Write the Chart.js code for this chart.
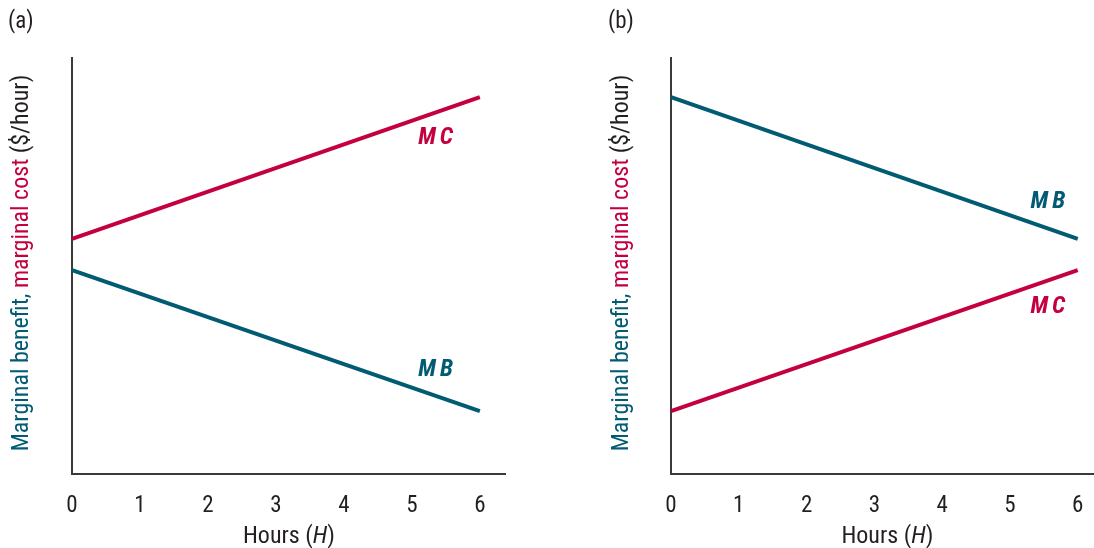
<!DOCTYPE html>
<html>
<head>
<meta charset="utf-8">
<script src="https://cdn.jsdelivr.net/npm/chart.js@4.4.1/dist/chart.umd.min.js"></script>
<style>
  html, body { margin: 0; padding: 0; background: #ffffff; overflow: hidden; }
  #wrap { position: relative; width: 1094px; height: 548px; overflow: hidden; }
  .panel { position: absolute; top: 0; height: 548px; }
  #panelA { left: 0; width: 547px; }
  #panelB { left: 547px; width: 567px; }
</style>
</head>
<body>
<div id="wrap">
  <div class="panel" id="panelA"><canvas id="chartA" width="547" height="548"></canvas></div>
  <div class="panel" id="panelB"><canvas id="chartB" width="567" height="548"></canvas></div>
</div>
<script>
// Hours on the horizontal axis
const hours = [0, 6];
const hourTicks = [0, 1, 2, 3, 4, 5, 6];

// Panel (a): marginal cost above marginal benefit everywhere
const mcA = [5.65, 9.06];
const mbA = [4.90, 1.51];

// Panel (b): marginal benefit above marginal cost everywhere
const mbB = [9.06, 5.65];
const mcB = [1.51, 4.90];

const TEAL = '#005b73';
const CRIMSON = '#c4003f';
const INK = '#231f20';
const FONT = '"Roboto Condensed", "Liberation Sans Narrow", "DejaVu Sans Condensed", "Liberation Sans", sans-serif';

function toPoints(xs, ys) {
  return xs.map((x, i) => ({ x: x, y: ys[i] }));
}

// Draws the panel tag, the two-colour vertical axis title,
// the "Hours (H)" title and the curve names.
const annotate = {
  id: 'annotate',
  afterDraw(chart, args, opts) {
    const ctx = chart.ctx;
    const xs = chart.scales.x, ys = chart.scales.y;
    ctx.save();

    // panel tag
    ctx.fillStyle = INK;
    ctx.font = '23px ' + FONT;
    ctx.textAlign = 'left';
    ctx.textBaseline = 'middle';
    ctx.fillText(opts.tag, opts.tagX, 22);

    // vertical title in three colours
    ctx.save();
    ctx.translate(opts.titleX, 263);
    ctx.rotate(-Math.PI / 2);
    ctx.font = '24px ' + FONT;
    ctx.textBaseline = 'middle';
    ctx.textAlign = 'left';
    const parts = [
      ['Marginal benefit, ', TEAL],
      ['marginal cost ', CRIMSON],
      ['($/hour)', INK]
    ];
    const total = parts.reduce((s, p) => s + ctx.measureText(p[0]).width, 0);
    let cx = -total / 2;
    parts.forEach(p => {
      ctx.fillStyle = p[1];
      ctx.fillText(p[0], cx, 0);
      cx += ctx.measureText(p[0]).width;
    });
    ctx.restore();

    // horizontal title with italic H, set a little right of the axis middle
    const midX = (xs.getPixelForValue(0) + xs.getPixelForValue(6)) / 2 + 13;
    const tParts = [
      ['Hours (', '24px ' + FONT],
      ['H', 'italic 24px ' + FONT],
      [')', '24px ' + FONT]
    ];
    let tw = 0;
    tParts.forEach(p => { ctx.font = p[1]; tw += ctx.measureText(p[0]).width; });
    let tx = midX - tw / 2;
    ctx.fillStyle = INK;
    ctx.textBaseline = 'middle';
    tParts.forEach(p => {
      ctx.font = p[1];
      ctx.fillText(p[0], tx, 537);
      tx += ctx.measureText(p[0]).width;
    });

    // curve names
    ctx.font = 'bold italic 24px ' + FONT;
    ctx.textAlign = 'center';
    ctx.textBaseline = 'middle';
    if ('letterSpacing' in ctx) ctx.letterSpacing = '4px';
    opts.names.forEach(n => {
      ctx.fillStyle = n.color;
      ctx.fillText(n.text, xs.getPixelForValue(n.x) + 2, ys.getPixelForValue(n.y));
    });
    ctx.restore();
  }
};

function makeChart(id, cfg) {
  return new Chart(document.getElementById(id), {
    type: 'line',
    data: {
      datasets: cfg.series.map(s => ({
        data: toPoints(hours, s.values),
        borderColor: s.color,
        borderWidth: 4,
        pointRadius: 0,
        fill: false,
        tension: 0,
        clip: false
      }))
    },
    options: {
      responsive: false,
      animation: false,
      events: [],
      layout: { padding: { left: cfg.left, right: cfg.right, top: 58, bottom: 0 } },
      plugins: {
        legend: { display: false },
        tooltip: { enabled: false },
        annotate: { tag: cfg.tag, tagX: cfg.tagX, titleX: cfg.titleX, names: cfg.names }
      },
      scales: {
        x: {
          type: 'linear',
          min: 0,
          max: cfg.xMax,
          afterBuildTicks: axis => { axis.ticks = hourTicks.map(v => ({ value: v })); },
          afterFit: axis => { axis.height = 74; },
          grid: { display: false },
          border: { display: true, color: '#3a3a3a', width: 2 },
          ticks: {
            color: INK,
            font: { family: FONT, size: 23 },
            padding: 10,
            maxRotation: 0
          }
        },
        y: {
          type: 'linear',
          min: 0,
          max: 10,
          afterFit: axis => { axis.width = 0; },
          grid: { display: false },
          border: { display: true, color: '#3a3a3a', width: 2 },
          ticks: { display: false }
        }
      }
    },
    plugins: [annotate]
  });
}

makeChart('chartA', {
  tag: '(a)', tagX: 8, titleX: 22,
  left: 72, right: 42, xMax: 6.37,
  series: [
    { values: mcA, color: CRIMSON },
    { values: mbA, color: TEAL }
  ],
  names: [
    { text: 'MC', color: CRIMSON, x: 5.35, y: 8.08 },
    { text: 'MB', color: TEAL, x: 5.35, y: 2.50 }
  ]
});

makeChart('chartB', {
  tag: '(b)', tagX: 61, titleX: 75,
  left: 124, right: 20, xMax: 6.24,
  series: [
    { values: mbB, color: TEAL },
    { values: mcB, color: CRIMSON }
  ],
  names: [
    { text: 'MB', color: TEAL, x: 5.56, y: 6.54 },
    { text: 'MC', color: CRIMSON, x: 5.56, y: 4.01 }
  ]
});
</script>
</body>
</html>
